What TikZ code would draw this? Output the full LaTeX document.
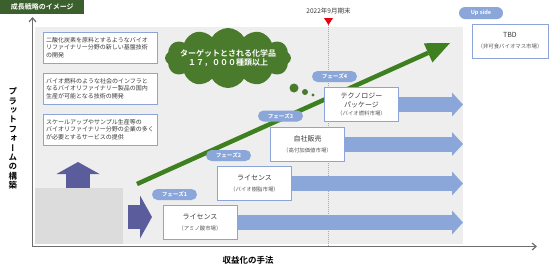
\documentclass[tikz,border=0pt]{standalone}
\usepackage{fontspec}
\setmainfont{Noto Sans CJK JP}[BoldFont={* Bold}]
\newfontfamily\vertfont{Noto Sans CJK JP Bold}[RawFeature=+vert]
\usetikzlibrary{arrows.meta,positioning,calc,backgrounds,shapes.symbols}
\definecolor{TitleGreen}{HTML}{3B5F2D}
\definecolor{CloudGreen}{HTML}{4A7A2C}
\definecolor{GrowGreen}{HTML}{3E7F1F}
\definecolor{PhaseBlue}{HTML}{8BA6D8}
\definecolor{BoxBlue}{HTML}{8DA4DA}
\definecolor{BlockBlue}{HTML}{5A5C9C}
\definecolor{BgGray}{HTML}{EDEEED}
\definecolor{InnerGray}{HTML}{DCDCDC}
\definecolor{AxisGray}{HTML}{6E6E6E}
\definecolor{MarkRed}{HTML}{E60012}
\definecolor{DotRed}{HTML}{F08A8A}
\definecolor{TextGray}{HTML}{3A3A3A}
\newcommand{\subline}[1]{{\fontsize{5.4}{7}\selectfont\color{TextGray!85}#1}}

\begin{document}
\begin{tikzpicture}[x=1pt,y=-1pt,
  heading/.style={fill=TitleGreen,text=white,minimum width=84pt,minimum height=14pt,
    inner sep=0pt,font=\bfseries\fontsize{7}{8}\selectfont},
  techbox/.style={draw=BoxBlue,fill=white,line width=0.8pt,text width=108pt,
    minimum height=31pt,align=left,inner sep=3pt,text=TextGray,
    font=\fontsize{6}{7.5}\selectfont},
  market/.style={draw=BoxBlue,fill=white,line width=0.8pt,minimum width=74pt,
    minimum height=34pt,align=center,inner sep=1pt,text=TextGray,
    font=\fontsize{7}{11}\selectfont},
  phase/.style={fill=PhaseBlue,rounded corners=5.5pt,minimum width=45pt,
    minimum height=11pt,inner sep=0pt,text=white,font=\bfseries\fontsize{5.6}{6}\selectfont},
  flow/.style={PhaseBlue,line width=15pt,-{Triangle[length=11pt,width=24pt,line width=0pt]}},
  block/.style={BlockBlue,line width=24pt,-{Triangle[length=12pt,width=43pt,line width=0pt]}},
  growth/.style={GrowGreen,line width=4.5pt,-{Triangle[length=24pt,width=21pt,line width=0pt]}},
  axis/.style={AxisGray,line width=1.2pt,-{Straight Barb[length=4pt,width=7pt]}}]
  \useasboundingbox (0,0) rectangle (549,269);

  % heading
  \node[heading,anchor=north west] (head) at (0,0) {成長戦略のイメージ};

  % platform technologies
  \node[techbox] (co2) at (100,47.5) {二酸化炭素を原料とするようなバイオ\\リファイナリー分野の新しい基盤技術\\の開発};
  \node[techbox] (infra) at (100,88.5) {バイオ燃料のような社会のインフラと\\なるバイオリファイナリー製品の国内\\生産が可能となる技術の開発};
  \node[techbox] (service) at (100,129.5) {スケールアップやサンプル生産等の\\バイオリファイナリー分野の企業の多く\\が必要とするサービスの提供};

  % markets
  \node[market] (amino) at (200,222.5) {ライセンス\\\subline{（アミノ酸市場）}};
  \node[market] (resin) at (254.5,183.5) {ライセンス\\\subline{（バイオ樹脂市場）}};
  \node[market] (own) at (307.5,144) {自社販売\\\subline{（高付加価値市場）}};
  \node[market,font=\fontsize{7}{8.7}\selectfont] (fuel) at (361.5,104.5) {テクノロジー\\パッケージ\\\subline{（バイオ燃料市場）}};
  \node[market,minimum width=76pt] (tbd) at (510,41) {TBD\\\subline{（非可食バイオマス市場）}};

  % phases
  \node[phase] (ph1) at (174.5,194.5) {フェーズ1};
  \node[phase] (ph2) at (228.5,155.5) {フェーズ2};
  \node[phase] (ph3) at (280.5,116) {フェーズ3};
  \node[phase] (ph4) at (334.5,76.5) {フェーズ4};
  \node[phase,minimum width=44pt,minimum height=12pt,rounded corners=6pt] (up) at (481,13) {Up side};

  % target chemicals
  \node[cloud,cloud puffs=12,cloud puff arc=120,aspect=2,fill=CloudGreen,
    minimum width=126pt,minimum height=60pt,inner sep=0pt] (cloud) at (228,58) {};
  \node[text=white,align=center,font=\bfseries\fontsize{8}{9.4}\selectfont] (target) at (cloud.center) {ターゲットとされる化学品\\１７，０００種類以上};
  \fill[CloudGreen] (294,88) circle (4.5pt) (305,92) circle (3pt) (313,95) circle (1.6pt);

  % end of term
  \node[text=TextGray,font=\fontsize{6.5}{7}\selectfont] (term) at (328.5,11.5) {2022年9月期末};
  \fill[MarkRed] (324,18) -- (333,18) -- (328.5,25) -- cycle;
  \coordinate (mark) at (328.5,25);

  % axes
  \coordinate (origin) at (32.5,246.5);
  \coordinate (ytip) at (32.5,17);
  \coordinate (xtip) at (537,246.5);
  \draw[axis] (origin) -- (ytip);
  \draw[axis] (origin) -- (xtip);
  \node[font=\vertfont\fontsize{8.5}{9.4}\selectfont,align=center] (ylab) at (13,138.5) {プ\\ラ\\ッ\\ト\\フ\\ォ\\ー\\ム\\の\\構\\築};
  \node[font=\bfseries\fontsize{8.5}{10}\selectfont] (xlab) at (248,260) {収益化の手法};

  \coordinate (tipx) at (463,0);
  \coordinate (gstart) at (137,184);
  \coordinate (gend) at (450,43);
  \begin{scope}[on background layer]
    \fill[BgGray] (35,27) rectangle (463,244);
    \fill[InnerGray] (35,188) rectangle (123,244);
    \draw[DotRed,line width=0.6pt,dash pattern=on 1pt off 1pt] (mark) -- (mark |- origin);
    \draw[block] (78,188) -- (78,162);
    \draw[block] (128,217) -- (152,217);
    \foreach \m in {amino,resin,own,fuel}
      \draw[flow] (\m.center) -- (\m.center -| tipx);
    \draw[growth] (gstart) -- (gend);
  \end{scope}
\end{tikzpicture}
\end{document}
